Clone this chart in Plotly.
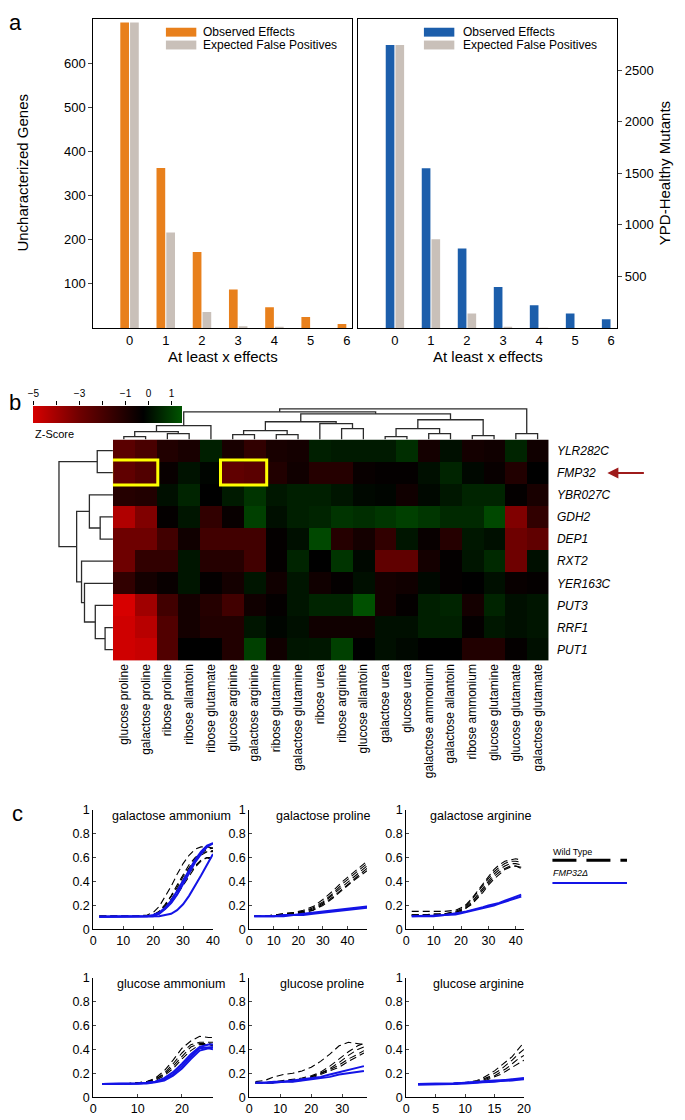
import plotly.graph_objects as go

W, H = 685, 1120
FONT = "Liberation Sans, Arial, Helvetica, sans-serif"

# ---------------- Panel a data ----------------
effects = [0, 1, 2, 3, 4, 5, 6]
genes_observed = [692, 362, 172, 87, 47, 25, 9]
genes_expected = [692, 216, 36, 4, 0.5, 0, 0]
mutants_observed = [2745, 1550, 770, 398, 220, 140, 85]
mutants_expected = [2745, 860, 140, 12, 0.5, 0, 0]

# ---------------- Panel b data ----------------
conditions = ["glucose proline", "galactose proline", "ribose proline", "ribose allantoin",
              "ribose glutamate", "glucose arginine", "galactose arginine", "ribose glutamine",
              "galactose glutamine", "ribose urea", "ribose arginine", "glucose allantoin",
              "galactose urea", "glucose urea", "galactose ammonium", "galactose allantoin",
              "ribose ammonium", "glucose glutamine", "glucose glutamate", "galactose glutamate"]
genes = ["YLR282C", "FMP32", "YBR027C", "GDH2", "DEP1", "RXT2", "YER163C", "PUT3", "RRF1", "PUT1"]
zscores = [
    [-2.5, -2.1, -1.1, -0.9, 0.3, -0.9, -1.5, -0.9, -0.8, 0.3, 0.2, 0.2, 0.2, 0.6, -0.8, 0.0, -0.8, -0.7, 0.4, -0.7],
    [-2.65, -2.3, -0.5, 0.05, -0.2, -2.65, -2.5, -1.1, -0.7, -1.2, -1.2, -0.5, -0.4, -0.4, 0.0, 0.4, -0.15, -0.5, -1.1, -0.3],
    [-1.2, -1.1, 0.0, 0.4, -0.3, 0.2, 0.7, 0.15, 0.3, 0.3, 0.1, -0.15, -0.2, -0.7, -0.15, 0.15, 0.4, 0.4, -0.4, -0.9],
    [-4.25, -3.35, -0.4, 0.1, -1.5, -0.5, 0.95, 0.0, 0.3, 0.4, 0.7, 0.6, 0.75, 0.95, 0.75, 0.5, 0.5, 1.1, -3.35, -1.5],
    [-3.0, -3.0, -1.9, -0.7, -1.9, -1.9, -1.9, -0.4, 0.0, 1.1, -1.2, -0.8, -1.5, 0.1, -0.5, -1.2, 0.15, 0.0, -3.0, -2.65],
    [-3.0, -1.5, -1.5, 0.1, -1.2, -1.2, -1.9, -0.4, 0.4, -0.3, 0.7, -0.15, -2.65, -2.65, -0.8, -0.4, 0.1, 0.5, -3.0, 0.0],
    [-1.5, -0.8, -0.5, 0.1, -0.4, -0.8, 0.1, -0.7, 0.1, -0.7, -0.4, 0.0, -0.8, -0.7, -0.15, -0.4, -0.3, 0.0, -0.5, -0.4],
    [-5.0, -3.95, -1.9, -0.8, -1.2, -1.9, -0.7, -0.4, 0.1, 0.4, 0.4, 1.25, -0.8, -0.4, 0.3, 0.4, -0.8, 0.4, 0.0, 0.1],
    [-4.85, -4.4, -2.3, -0.8, -1.1, -1.1, 0.1, -0.2, 0.0, -0.7, -0.7, -0.7, 0.0, 0.0, 0.3, 0.3, -0.4, 0.15, 0.0, 0.1],
    [-4.85, -4.7, -2.3, -0.3, -0.3, -1.1, 0.95, -0.7, 0.1, 0.15, 0.95, -0.3, 0.0, -0.15, -0.3, -0.3, -1.1, -1.1, -0.4, 0.0],
]
cbar_ticks = [-5, -4, -3, -2, -1, 0, 1]
cbar_ticktext = ["\u22125", "", "\u22123", "", "\u22121", "0", "1"]

# dendrograms: (left, right, height); leaves are column / row indices
col_tree = ((((((0, 1, 3), (2, 3, 6), 8), 4, 14),
             ((((5, 6, 5), (7, 8, 5), 9), (9, (10, 11, 11), 16), 18),
              ((((12, 13, 3), (14, 15, 6), 11), (16, 17, 4), 20)), 26), 28),
            (18, 19, 6), 31))
row_tree = ((0, 1, 16), ((2, (3, 4, 13), 24), (5, (6, (7, (8, 9, 8), 18), 29), 32), 37), 55)

# ---------------- Panel c data ----------------
ga_t = [2, 6, 10, 14, 18, 20, 22, 24, 26, 28, 30, 32, 34, 36, 38, 40]
ga_wt = [
    [0.11, 0.11, 0.11, 0.11, 0.12, 0.14, 0.19, 0.27, 0.36, 0.46, 0.55, 0.62, 0.67, 0.69, 0.69, 0.68],
    [0.11, 0.11, 0.11, 0.11, 0.11, 0.12, 0.15, 0.20, 0.27, 0.35, 0.44, 0.52, 0.59, 0.64, 0.67, 0.68],
    [0.11, 0.11, 0.11, 0.11, 0.11, 0.12, 0.14, 0.19, 0.25, 0.33, 0.42, 0.50, 0.57, 0.62, 0.65, 0.66],
    [0.11, 0.11, 0.11, 0.11, 0.11, 0.12, 0.14, 0.18, 0.24, 0.31, 0.39, 0.47, 0.53, 0.58, 0.60, 0.60],
    [0.11, 0.11, 0.11, 0.11, 0.11, 0.12, 0.13, 0.17, 0.22, 0.29, 0.37, 0.45, 0.52, 0.57, 0.60, 0.58],
    [0.11, 0.11, 0.11, 0.11, 0.11, 0.12, 0.15, 0.21, 0.28, 0.37, 0.46, 0.54, 0.60, 0.64, 0.65, 0.65]]
ga_mut = [
    [0.105, 0.105, 0.105, 0.105, 0.11, 0.12, 0.14, 0.18, 0.24, 0.32, 0.41, 0.50, 0.58, 0.65, 0.70, 0.72],
    [0.105, 0.105, 0.105, 0.105, 0.105, 0.11, 0.13, 0.17, 0.22, 0.29, 0.38, 0.47, 0.56, 0.63, 0.69, 0.72],
    [0.105, 0.105, 0.105, 0.105, 0.105, 0.105, 0.11, 0.12, 0.13, 0.16, 0.21, 0.28, 0.36, 0.45, 0.54, 0.63]]

gp_t = [2, 6, 10, 14, 18, 22, 26, 30, 34, 38, 42, 46, 48]
gp_wt = [
    [0.11, 0.11, 0.12, 0.13, 0.14, 0.16, 0.19, 0.25, 0.32, 0.40, 0.47, 0.54, 0.57],
    [0.11, 0.11, 0.12, 0.13, 0.14, 0.15, 0.18, 0.23, 0.30, 0.38, 0.45, 0.52, 0.55],
    [0.11, 0.11, 0.12, 0.12, 0.13, 0.15, 0.17, 0.22, 0.29, 0.36, 0.43, 0.50, 0.53],
    [0.11, 0.11, 0.11, 0.12, 0.13, 0.14, 0.16, 0.21, 0.27, 0.34, 0.41, 0.48, 0.51],
    [0.11, 0.11, 0.11, 0.12, 0.13, 0.14, 0.16, 0.20, 0.26, 0.33, 0.40, 0.46, 0.49]]
gp_mut = [
    [0.11, 0.11, 0.11, 0.12, 0.12, 0.13, 0.14, 0.15, 0.16, 0.17, 0.18, 0.19, 0.19],
    [0.11, 0.11, 0.11, 0.11, 0.12, 0.12, 0.13, 0.14, 0.15, 0.16, 0.17, 0.18, 0.18]]

gr_t = [2, 6, 10, 14, 18, 20, 22, 24, 26, 28, 30, 32, 34, 36, 38, 40, 42]
gr_wt = [
    [0.15, 0.15, 0.15, 0.15, 0.16, 0.18, 0.21, 0.26, 0.32, 0.38, 0.44, 0.50, 0.54, 0.57, 0.58, 0.59, 0.58],
    [0.12, 0.12, 0.13, 0.13, 0.15, 0.17, 0.20, 0.25, 0.31, 0.37, 0.43, 0.48, 0.52, 0.55, 0.57, 0.57, 0.56],
    [0.12, 0.12, 0.12, 0.13, 0.14, 0.16, 0.19, 0.23, 0.29, 0.35, 0.41, 0.46, 0.50, 0.53, 0.55, 0.55, 0.54],
    [0.12, 0.12, 0.12, 0.13, 0.14, 0.16, 0.18, 0.22, 0.27, 0.33, 0.39, 0.44, 0.48, 0.51, 0.53, 0.53, 0.51],
    [0.12, 0.12, 0.12, 0.12, 0.13, 0.15, 0.18, 0.21, 0.26, 0.31, 0.37, 0.42, 0.46, 0.50, 0.52, 0.53, 0.52]]
gr_mut = [
    [0.11, 0.11, 0.115, 0.12, 0.13, 0.14, 0.15, 0.16, 0.17, 0.185, 0.20, 0.21, 0.22, 0.24, 0.255, 0.27, 0.29],
    [0.11, 0.11, 0.11, 0.12, 0.125, 0.135, 0.145, 0.155, 0.165, 0.18, 0.19, 0.20, 0.215, 0.23, 0.245, 0.26, 0.275]]

ua_t = [2, 4, 6, 8, 10, 12, 14, 16, 18, 20, 22, 24, 26, 27]
ua_wt = [
    [0.11, 0.11, 0.11, 0.115, 0.12, 0.13, 0.16, 0.22, 0.31, 0.41, 0.47, 0.51, 0.50, 0.50],
    [0.11, 0.11, 0.11, 0.115, 0.12, 0.13, 0.15, 0.20, 0.28, 0.37, 0.44, 0.46, 0.46, 0.46],
    [0.11, 0.11, 0.11, 0.115, 0.12, 0.13, 0.15, 0.19, 0.26, 0.34, 0.42, 0.45, 0.45, 0.44],
    [0.11, 0.11, 0.11, 0.11, 0.12, 0.125, 0.14, 0.18, 0.24, 0.32, 0.39, 0.44, 0.44, 0.43]]
ua_mut = [
    [0.11, 0.11, 0.11, 0.11, 0.115, 0.12, 0.13, 0.16, 0.21, 0.28, 0.36, 0.42, 0.44, 0.44],
    [0.11, 0.11, 0.11, 0.11, 0.115, 0.12, 0.13, 0.15, 0.19, 0.26, 0.34, 0.41, 0.42, 0.42],
    [0.11, 0.11, 0.11, 0.11, 0.11, 0.115, 0.125, 0.14, 0.18, 0.24, 0.32, 0.39, 0.41, 0.40]]

up_t = [2, 5, 8, 11, 14, 17, 20, 23, 26, 29, 32, 35, 37]
up_wt = [
    [0.13, 0.14, 0.17, 0.19, 0.20, 0.22, 0.25, 0.30, 0.36, 0.43, 0.46, 0.45, 0.44],
    [0.12, 0.12, 0.13, 0.14, 0.15, 0.16, 0.18, 0.21, 0.26, 0.32, 0.38, 0.43, 0.45],
    [0.12, 0.12, 0.13, 0.13, 0.14, 0.15, 0.17, 0.20, 0.24, 0.29, 0.35, 0.40, 0.42],
    [0.12, 0.12, 0.12, 0.13, 0.14, 0.15, 0.17, 0.20, 0.23, 0.27, 0.32, 0.36, 0.39],
    [0.12, 0.12, 0.12, 0.13, 0.13, 0.14, 0.16, 0.19, 0.22, 0.25, 0.30, 0.34, 0.37]]
up_mut = [
    [0.12, 0.12, 0.13, 0.13, 0.14, 0.15, 0.16, 0.17, 0.19, 0.21, 0.23, 0.25, 0.26],
    [0.12, 0.12, 0.12, 0.13, 0.13, 0.14, 0.15, 0.16, 0.17, 0.19, 0.20, 0.21, 0.22]]

ur_t = [2, 4, 6, 8, 10, 11, 12, 13, 14, 15, 16, 17, 18, 19, 20]
ur_wt = [
    [0.11, 0.11, 0.11, 0.115, 0.12, 0.13, 0.14, 0.16, 0.19, 0.22, 0.26, 0.30, 0.34, 0.40, 0.46],
    [0.11, 0.11, 0.11, 0.115, 0.12, 0.125, 0.13, 0.15, 0.17, 0.20, 0.23, 0.27, 0.31, 0.36, 0.40],
    [0.11, 0.11, 0.11, 0.115, 0.12, 0.12, 0.13, 0.14, 0.16, 0.18, 0.21, 0.24, 0.28, 0.32, 0.35],
    [0.11, 0.11, 0.11, 0.11, 0.12, 0.12, 0.125, 0.13, 0.15, 0.17, 0.19, 0.22, 0.25, 0.28, 0.31]]
ur_mut = [
    [0.11, 0.11, 0.11, 0.115, 0.12, 0.12, 0.125, 0.13, 0.13, 0.135, 0.14, 0.14, 0.145, 0.15, 0.155],
    [0.105, 0.105, 0.11, 0.11, 0.115, 0.115, 0.12, 0.125, 0.125, 0.13, 0.135, 0.135, 0.14, 0.145, 0.15],
    [0.11, 0.11, 0.11, 0.115, 0.12, 0.125, 0.13, 0.13, 0.135, 0.14, 0.14, 0.145, 0.15, 0.155, 0.16]]

growth_titles = ["galactose ammonium", "galactose proline", "galactose arginine",
                 "glucose ammonium", "glucose proline", "glucose arginine"]

# ---------------- helpers ----------------
def px(x):
    return x / W

def py(y):
    return 1 - y / H

def dx(a, b):
    return [a / W, b / W]

def dy(top, bottom):
    return [1 - bottom / H, 1 - top / H]

ORANGE = "#e8801c"
BLUE_A = "#1c5eab"
GREY = "#c9c0b9"
MUT_BLUE = "#1414e6"

fig = go.Figure()
layout = dict(width=W, height=H, margin=dict(l=0, r=0, t=0, b=0),
              paper_bgcolor="white", plot_bgcolor="white",
              font=dict(family=FONT, color="black", size=13),
              showlegend=False, barmode="group", bargap=0.46, bargroupgap=0.11)
annotations = []
shapes = []

def ann(x, y, text, size=13, xanchor="center", yanchor="middle", angle=0, **kw):
    annotations.append(dict(x=px(x), y=py(y), xref="paper", yref="paper", text=text,
                            showarrow=False, xanchor=xanchor, yanchor=yanchor, textangle=angle,
                            font=dict(family=FONT, size=size, color="black"), **kw))

# ---------------- Panel a ----------------
fig.add_trace(go.Bar(x=effects, y=genes_observed, marker=dict(color=ORANGE, line=dict(width=0)), xaxis="x", yaxis="y"))
fig.add_trace(go.Bar(x=effects, y=genes_expected, marker=dict(color=GREY, line=dict(width=0)), xaxis="x", yaxis="y"))
fig.add_trace(go.Bar(x=effects, y=mutants_observed, marker=dict(color=BLUE_A, line=dict(width=0)), xaxis="x2", yaxis="y2"))
fig.add_trace(go.Bar(x=effects, y=mutants_expected, marker=dict(color=GREY, line=dict(width=0)), xaxis="x2", yaxis="y2"))

axis_common = dict(showgrid=False, zeroline=False, showline=True, linecolor="black", linewidth=1, mirror=True)
layout["xaxis"] = dict(domain=dx(89, 353), range=[-1.0, 6.15], tickvals=effects, ticks="", anchor="y",
                       tickfont=dict(size=13), **axis_common)
layout["yaxis"] = dict(domain=dy(12, 325), range=[0, 700], tickvals=[100, 200, 300, 400, 500, 600],
                       ticks="outside", ticklen=4, anchor="x", tickfont=dict(size=13), **axis_common)
layout["xaxis2"] = dict(domain=dx(359, 623), range=[-1.02, 6.17], tickvals=effects, ticks="", anchor="y2",
                        tickfont=dict(size=13), **axis_common)
layout["yaxis2"] = dict(domain=dy(12, 325), range=[0, 3000], tickvals=[500, 1000, 1500, 2000, 2500],
                        ticks="outside", ticklen=4, side="right", anchor="x2", tickfont=dict(size=13), **axis_common)

ann(17, 168, "Uncharacterized Genes", size=15, angle=-90)
ann(672, 168, "YPD-Healthy Mutants", size=15, angle=-90)
ann(221, 354, "At least x effects", size=15)
ann(491, 354, "At least x effects", size=15)
ann(10, 16, "a", size=22)
for (x0, col, lx) in [(163, ORANGE, 199), (426, BLUE_A, 464)]:
    shapes.append(dict(type="rect", xref="paper", yref="paper", x0=px(x0), x1=px(x0 + 31),
                       y0=py(30), y1=py(21), fillcolor=col, line=dict(width=0)))
    shapes.append(dict(type="rect", xref="paper", yref="paper", x0=px(x0), x1=px(x0 + 31),
                       y0=py(43), y1=py(34), fillcolor=GREY, line=dict(width=0)))
    ann(lx, 25.5, "Observed Effects", size=12, xanchor="left")
    ann(lx, 38.5, "Expected False Positives", size=12, xanchor="left")

# ---------------- Panel b ----------------
colorscale = [[0.0, "rgb(215,0,0)"], [2 / 6.35, "rgb(110,0,0)"], [4.7 / 6.35, "rgb(0,0,0)"], [1.0, "rgb(0,85,0)"]]
fig.add_trace(go.Heatmap(z=zscores, x=list(range(len(conditions))), y=list(range(len(genes))),
                         colorscale=colorscale, zmin=-5, zmax=1.35, xaxis="x3", yaxis="y3",
                         colorbar=dict(orientation="h", x=px(28), xanchor="left", y=py(421), yanchor="bottom",
                                       len=149, lenmode="pixels", thickness=17, thicknessmode="pixels",
                                       xpad=0, ypad=0, outlinewidth=0, showticklabels=False, ticks="")))
layout["xaxis3"] = dict(domain=dx(109, 553), range=[-0.5, 19.5], tickvals=list(range(20)), ticktext=conditions,
                        tickangle=-90, ticks="", showline=False, showgrid=False, zeroline=False, anchor="y3",
                        tickfont=dict(size=12))
layout["yaxis3"] = dict(domain=dy(438, 662), range=[9.5, -0.5], tickvals=list(range(10)),
                        ticktext=["<i>%s</i>" % g for g in genes], side="right", ticks="outside", ticklen=5,
                        tickcolor="rgba(0,0,0,0)", showline=False, showgrid=False, zeroline=False, anchor="x3",
                        tickfont=dict(size=12))

def tree_lines(node, orient):
    if isinstance(node, int):
        return node, 0, [], []
    l, r, h = node
    pl, hl, xl, yl = tree_lines(l, orient)
    pr, hr, xr, yr = tree_lines(r, orient)
    pos = [pl, pl, pr, pr, None]
    hts = [hl, h, h, hr, None]
    if orient == "top":
        xs, ys = pos, hts
    else:
        xs, ys = hts, pos
    return (pl + pr) / 2, h, xl + xr + xs, yl + yr + ys

_, _, tx, ty = tree_lines(col_tree, "top")
fig.add_trace(go.Scatter(x=tx, y=ty, mode="lines", line=dict(color="#2b2b2b", width=1.3),
                         xaxis="x4", yaxis="y4", hoverinfo="skip"))
_, _, lx_, ly_ = tree_lines(row_tree, "left")
fig.add_trace(go.Scatter(x=lx_, y=ly_, mode="lines", line=dict(color="#2b2b2b", width=1.3),
                         xaxis="x5", yaxis="y5", hoverinfo="skip"))
layout["xaxis4"] = dict(domain=dx(109, 553), range=[-0.5, 19.5], visible=False, anchor="y4")
layout["yaxis4"] = dict(domain=dy(403, 438), range=[0, 35], visible=False, anchor="x4")
layout["xaxis5"] = dict(domain=dx(45, 109), range=[64, 0], visible=False, anchor="y5")
layout["yaxis5"] = dict(domain=dy(438, 662), range=[9.5, -0.5], visible=False, anchor="x5")

# colorbar tick axis
fig.add_trace(go.Scatter(x=[None], y=[None], xaxis="x6", yaxis="y6", hoverinfo="skip"))
layout["xaxis6"] = dict(domain=dx(28, 177), range=[-5, 1.35], side="top", anchor="y6", tickvals=cbar_ticks,
                        ticktext=cbar_ticktext, ticks="outside", ticklen=4, tickcolor="black",
                        showline=False, showgrid=False, zeroline=False, tickfont=dict(size=10))
layout["yaxis6"] = dict(domain=dy(404, 421), range=[0, 1], visible=False, anchor="x6")
ann(28, 432, "Z-Score", size=11, xanchor="left")
ann(9, 400, "b", size=22)

for (c0, c1) in [(-0.56, 1.56), (4.44, 6.56)]:
    shapes.append(dict(type="rect", xref="x3", yref="y3", x0=c0, x1=c1, y0=0.42, y1=1.55,
                       line=dict(color="#ffff00", width=3)))
annotations.append(dict(x=px(613), y=py(472), xref="paper", yref="paper", text="", showarrow=True,
                        ax=38, ay=0, arrowhead=2, arrowsize=1.1, arrowwidth=2, arrowcolor="#9e1b1b"))

# ---------------- Panel c ----------------
growth = [(ga_t, ga_wt, ga_mut, 40, [0, 10, 20, 30, 40]),
          (gp_t, gp_wt, gp_mut, 48, [0, 10, 20, 30, 40]),
          (gr_t, gr_wt, gr_mut, 43, [0, 10, 20, 30, 40]),
          (ua_t, ua_wt, ua_mut, 27, [0, 10, 20]),
          (up_t, up_wt, up_mut, 38, [0, 10, 20, 30]),
          (ur_t, ur_wt, ur_mut, 20, [0, 5, 10, 15, 20])]
col_x = [(89, 211), (248, 368), (408, 528)]
row_y = [(813, 934), (983, 1104)]
title_x = [169, 324, 484, 168, 322, 482]
for i, (t, wt, mut, xmax, xt) in enumerate(growth):
    n = i + 7
    xa, ya = "x%d" % n, "y%d" % n
    for curve in wt:
        fig.add_trace(go.Scatter(x=t, y=curve, mode="lines", xaxis=xa, yaxis=ya, hoverinfo="skip",
                                 line=dict(color="black", width=1.1, dash="7px,4px")))
    for curve in mut:
        fig.add_trace(go.Scatter(x=t, y=curve, mode="lines", xaxis=xa, yaxis=ya, hoverinfo="skip",
                                 line=dict(color=MUT_BLUE, width=2)))
    cx = col_x[i % 3]
    ry = row_y[i // 3]
    layout["xaxis%d" % n] = dict(domain=dx(*cx), range=[0, xmax], tickvals=xt, ticks="inside", ticklen=3,
                                 showline=True, linecolor="black", linewidth=1, showgrid=False, zeroline=False,
                                 anchor=ya, tickfont=dict(size=12.5))
    layout["yaxis%d" % n] = dict(domain=dy(*ry), range=[0, 1], tickvals=[0, 0.2, 0.4, 0.6, 0.8, 1],
                                 ticktext=["0", "0.2", "0.4", "0.6", "0.8", "1"], ticks="inside", ticklen=3,
                                 showline=True, linecolor="black", linewidth=1, showgrid=False, zeroline=False,
                                 anchor=xa, tickfont=dict(size=12.5))
    ann(title_x[i], ry[0] + 6, growth_titles[i], size=12.5)

ann(12, 817, "c", size=22)
ann(556, 856, "Wild Type", size=9, xanchor="left")
shapes.append(dict(type="line", xref="paper", yref="paper", x0=px(557), x1=px(633), y0=py(864), y1=py(864),
                   line=dict(color="black", width=3, dash="24px,10px")))
ann(556, 877, "<i>FMP32\u0394</i>", size=9, xanchor="left")
shapes.append(dict(type="line", xref="paper", yref="paper", x0=px(557), x1=px(633), y0=py(887), y1=py(887),
                   line=dict(color=MUT_BLUE, width=2)))

layout["annotations"] = annotations
layout["shapes"] = shapes
fig.update_layout(**layout)
fig.write_html("out.html", config={"displayModeBar": False},
               post_script="document.body.style.margin='0';document.body.style.overflow='hidden';")
